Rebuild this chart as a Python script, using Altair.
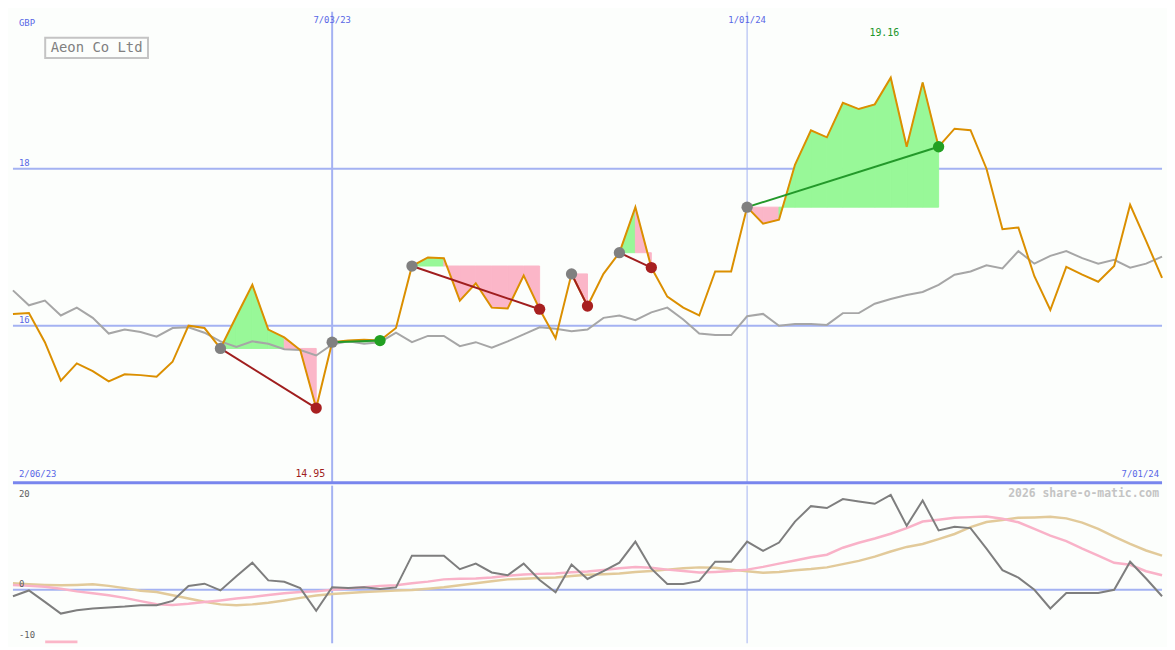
import altair as alt
import pandas as pd

# ---------------- data (weekly points, index 0..72) ----------------
price = [16.15, 16.16, 15.79, 15.30, 15.52, 15.42, 15.29, 15.38, 15.37, 15.35,
         15.54, 16.00, 15.97, 15.71, 16.12, 16.52, 15.95, 15.85, 15.69, 14.95,
         15.79, 15.81, 15.82, 15.81, 15.97, 16.76, 16.87, 16.86, 16.32, 16.54,
         16.23, 16.22, 16.64, 16.21, 15.84, 16.66, 16.25, 16.66, 16.93, 17.51,
         16.74, 16.37, 16.23, 16.13, 16.69, 16.69, 17.51, 17.30, 17.35, 18.05,
         18.49, 18.40, 18.84, 18.76, 18.82, 19.16, 18.28, 19.10, 18.28, 18.51,
         18.49, 18.00, 17.23, 17.25, 16.63, 16.20, 16.75, 16.65, 16.56, 16.76,
         17.54, 17.08, 16.61]

bench = [16.45, 16.26, 16.32, 16.13, 16.23, 16.10, 15.90, 15.95, 15.92, 15.86,
         15.97, 15.98, 15.91, 15.80, 15.73, 15.80, 15.77, 15.70, 15.69, 15.62,
         15.76, 15.80, 15.77, 15.79, 15.91, 15.79, 15.87, 15.87, 15.74, 15.79,
         15.72, 15.80, 15.89, 15.98, 15.96, 15.93, 15.95, 16.10, 16.13, 16.07,
         16.17, 16.23, 16.08, 15.90, 15.88, 15.88, 16.12, 16.15, 16.00, 16.02,
         16.02, 16.01, 16.16, 16.16, 16.28, 16.34, 16.39, 16.43, 16.52, 16.65,
         16.69, 16.77, 16.73, 16.95, 16.79, 16.89, 16.95, 16.86, 16.79, 16.84,
         16.74, 16.79, 16.88]

osc = [-1.4, -0.15, -2.6, -5.1, -4.4, -4.0, -3.8, -3.6, -3.3, -3.3,
       -2.4, 0.8, 1.3, -0.15, 2.9, 5.8, 2.0, 1.7, 0.35, -4.5,
       0.55, 0.35, 0.55, 0.15, 0.5, 7.3, 7.3, 7.3, 4.4, 5.6,
       3.7, 3.1, 5.6, 2.1, -0.55, 5.4, 2.3, 4.0, 5.8, 10.3,
       4.5, 1.25, 1.25, 1.9, 6.0, 6.0, 10.3, 8.3, 10.1, 14.6,
       17.9, 17.5, 19.4, 18.9, 18.4, 20.3, 13.7, 19.1, 12.7, 13.5,
       13.2, 8.8, 4.2, 2.6, 0.0, -4.0, -0.7, -0.7, -0.7, 0.0,
       6.0, 2.4, -1.4]

sig_pink = [1.04, 0.83, 0.63, 0.21, -0.35, -0.76, -1.18, -1.74, -2.43, -3.10,
            -3.26, -2.99, -2.64, -2.29, -1.88, -1.53, -1.11, -0.76, -0.49, -0.35,
            0.00, 0.28, 0.55, 0.83, 0.95, 1.39, 1.74, 2.22, 2.36, 2.43,
            2.64, 2.99, 3.26, 3.40, 3.47, 3.75, 3.89, 4.24, 4.58, 4.86,
            4.72, 4.31, 4.03, 3.68, 3.82, 4.03, 4.31, 4.90, 5.60, 6.25,
            6.94, 7.50, 9.00, 10.07, 10.97, 12.00, 13.20, 14.60, 15.00, 15.40,
            15.55, 15.70, 15.20, 14.45, 13.05, 11.60, 10.40, 8.80, 7.30, 5.76,
            5.35, 3.96, 3.10]

sig_tan = [1.39, 1.18, 1.04, 0.97, 1.04, 1.18, 0.83, 0.35, -0.21, -0.49,
           -1.18, -1.88, -2.57, -3.13, -3.33, -3.13, -2.78, -2.29, -1.74, -1.25,
           -0.90, -0.70, -0.49, -0.35, -0.18, -0.07, 0.21, 0.55, 0.97, 1.39,
           1.81, 2.22, 2.36, 2.50, 2.64, 2.92, 3.19, 3.33, 3.47, 3.82,
           4.03, 4.31, 4.58, 4.79, 4.72, 4.31, 3.96, 3.65, 3.82, 4.17,
           4.44, 4.79, 5.49, 6.18, 7.08, 8.20, 9.17, 9.80, 10.83, 11.94,
           13.40, 14.51, 14.93, 15.42, 15.49, 15.63, 15.28, 14.38, 13.05, 11.39,
           9.80, 8.40, 7.30]

idx = list(range(len(price)))

trade_entry = [13, 20, 25, 35, 38, 46]
trade_exit = [19, 23, 33, 36, 40, 58]

top_tick_labels = ["7/03/23", "1/01/24"]
top_tick_idx = [20, 46]
bottom_tick_labels = ["2/06/23", "7/01/24"]
price_grid = [16, 18]
osc_grid_labels = ["20", "0", "-10"]

# ---------------- styling ----------------
W, H1, H2 = 1159, 475, 159
BG = "#fcfefc"
GRID = "#a4b2f2"
SEP = "#7886ee"
LBL = "#5866e6"
FONT = "DejaVu Sans Mono"
UP_FILL, DOWN_FILL = "#98f898", "#fbb6c8"
WIN_LINE, LOSS_LINE = "#23992a", "#a01e1e"
WIN_DOT, LOSS_DOT = "#22a022", "#a82020"

xs = alt.Scale(domain=[0, 72], nice=False, zero=False)
ys1 = alt.Scale(domain=[14, 20], nice=False, zero=False)
ys2 = alt.Scale(domain=[-11.46, 22.29], nice=False, zero=False)

def X(f="i"):
    return alt.X(f"{f}:Q", scale=xs, axis=None)

def Y1(f):
    return alt.Y(f"{f}:Q", scale=ys1, axis=None)

def Y2(f):
    return alt.Y(f"{f}:Q", scale=ys2, axis=None)

main_df = pd.DataFrame({"i": idx, "price": price, "bench": bench})
osc_df = pd.DataFrame({"i": idx, "osc": osc, "pink": sig_pink, "tan": sig_tan})

# trade fills: per segment, between price and entry level
rows = []
for t, (a, b) in enumerate(zip(trade_entry, trade_exit)):
    e = price[a]
    for k in range(a, b):
        col = UP_FILL if price[k + 1] >= e else DOWN_FILL
        for j in (k, k + 1):
            rows.append({"seg": f"{t}-{k}", "i": j, "p": price[j], "e": e, "c": col})
fill_df = pd.DataFrame(rows)

wins = [price[b] >= price[a] for a, b in zip(trade_entry, trade_exit)]
trades_df = pd.DataFrame({
    "i": trade_entry,
    "i2": trade_exit,
    "p": [price[a] for a in trade_entry],
    "p2": [price[b] for b in trade_exit],
    "lc": [WIN_LINE if w else LOSS_LINE for w in wins],
    "dc": [WIN_DOT if w else LOSS_DOT for w in wins],
})

# ---------------- top panel ----------------
grid_h = alt.Chart(pd.DataFrame({"v": price_grid})).mark_rule(color=GRID, strokeWidth=2).encode(y=Y1("v"))
grid_v = alt.Chart(pd.DataFrame({"i": top_tick_idx, "w": [2, 1]})).mark_rule(color=GRID).encode(
    x=X(), strokeWidth=alt.StrokeWidth("w:Q", scale=None, legend=None))
sep = alt.Chart(pd.DataFrame({"v": [14]})).mark_rule(color=SEP, strokeWidth=3).encode(y=Y1("v"))

fills = alt.Chart(fill_df).mark_area(opacity=1, interpolate="linear", strokeWidth=1).encode(
    x=X(), y=Y1("p"), y2="e:Q", detail="seg:N",
    fill=alt.Fill("c:N", scale=None),
    stroke=alt.Stroke("c:N", scale=None),
)

bench_line = alt.Chart(main_df).mark_line(color="#a6a6a6", strokeWidth=2).encode(x=X(), y=Y1("bench"))
price_line = alt.Chart(main_df).mark_line(color="#db8f00", strokeWidth=2).encode(x=X(), y=Y1("price"))

trade_lines = alt.Chart(trades_df).mark_rule(strokeWidth=2).encode(
    x=X(), x2="i2:Q", y=Y1("p"), y2="p2:Q",
    color=alt.Color("lc:N", scale=None),
)
entry_pts = alt.Chart(trades_df).mark_circle(size=130, opacity=1, color="#808080").encode(x=X(), y=Y1("p"))
exit_pts = alt.Chart(trades_df).mark_circle(size=130, opacity=1).encode(
    x=X("i2"), y=Y1("p2"),
    color=alt.Color("dc:N", scale=None),
)

left_txt = alt.Chart(pd.DataFrame({
    "t": ["GBP", "18", "16", bottom_tick_labels[0]],
    "i": [0, 0, 0, 0],
    "v": [19.852, 18.075, 16.07, 14.11],
})).mark_text(align="left", baseline="middle", dx=6, font=FONT, fontSize=9, color=LBL).encode(
    x=X(), y=Y1("v"), text="t:N")

top_dates = alt.Chart(pd.DataFrame({
    "t": top_tick_labels, "i": top_tick_idx, "v": [19.90, 19.90]})).mark_text(
    align="center", baseline="middle", font=FONT, fontSize=9, color=LBL).encode(x=X(), y=Y1("v"), text="t:N")

right_date = alt.Chart(pd.DataFrame({"t": [bottom_tick_labels[1]], "i": [72], "v": [14.11]})).mark_text(
    align="right", baseline="middle", dx=-3, font=FONT, fontSize=9, color=LBL).encode(x=X(), y=Y1("v"), text="t:N")

hi_lo = alt.Chart(pd.DataFrame({
    "t": [f"{max(price):.2f}", f"{min(price):.2f}"],
    "i": [54.6, 18.63], "v": [19.73, 14.11], "c": ["#22962a", "#a01e1e"]})).mark_text(
    align="center", baseline="middle", font=FONT, fontSize=10).encode(
    x=X(), y=Y1("v"), text="t:N", color=alt.Color("c:N", scale=None))

name_box = alt.Chart(pd.DataFrame({"i": [2.02], "i2": [8.46], "v": [19.667], "v2": [19.409]})).mark_rect(
    fill=BG, stroke="#c4c4c4", strokeWidth=2).encode(x=X(), x2="i2:Q", y=Y1("v"), y2="v2:Q")
name_txt = alt.Chart(pd.DataFrame({"t": ["Aeon Co Ltd"], "i": [5.24], "v": [19.54]})).mark_text(
    align="center", baseline="middle", font=FONT, fontSize=14, color="#808080").encode(x=X(), y=Y1("v"), text="t:N")

top = alt.layer(
    grid_h, grid_v, fills, bench_line, price_line, trade_lines, entry_pts, exit_pts,
    sep, left_txt, top_dates, right_date, hi_lo, name_box, name_txt,
).properties(width=W, height=H1)

# ---------------- bottom panel ----------------
zero_line = alt.Chart(pd.DataFrame({"v": [0]})).mark_rule(color=GRID, strokeWidth=2).encode(y=Y2("v"))
grid_v2 = alt.Chart(pd.DataFrame({"i": top_tick_idx, "w": [2, 1]})).mark_rule(color=GRID).encode(
    x=X(), strokeWidth=alt.StrokeWidth("w:Q", scale=None, legend=None))
tan_line = alt.Chart(osc_df).mark_line(color="#e2ca9a", strokeWidth=2.5).encode(x=X(), y=Y2("tan"))
pink_line = alt.Chart(osc_df).mark_line(color="#f9b2c8", strokeWidth=2.5).encode(x=X(), y=Y2("pink"))
osc_line = alt.Chart(osc_df).mark_line(color="#7e7e7e", strokeWidth=2).encode(x=X(), y=Y2("osc"))

osc_lbl = alt.Chart(pd.DataFrame({"t": osc_grid_labels, "i": [0, 0, 0], "v": [20.6, 1.25, -9.8]})).mark_text(
    align="left", baseline="middle", dx=6, font=FONT, fontSize=9, color="#606060").encode(
    x=X(), y=Y2("v"), text="t:N")
credit = alt.Chart(pd.DataFrame({"t": ["2026 share-o-matic.com"], "i": [72], "v": [20.6]})).mark_text(
    align="right", baseline="middle", dx=-3, font=FONT, fontSize=11.5, fontWeight="bold", color="#c4c4c4").encode(
    x=X(), y=Y2("v"), text="t:N")
swatch = alt.Chart(pd.DataFrame({"i": [2.02], "i2": [4.04], "v": [-10.85], "v2": [-11.46]})).mark_rect(
    color="#fbb6c8").encode(x=X(), x2="i2:Q", y=Y2("v"), y2="v2:Q")

bottom = alt.layer(
    zero_line, grid_v2, tan_line, pink_line, osc_line, osc_lbl, credit, swatch,
).properties(width=W, height=H2)

chart = alt.vconcat(top, bottom, spacing=0).properties(
    padding=0, background=BG
).configure_view(stroke=None).configure_concat(spacing=0)

chart.save("out.html", embed_options={"renderer": "svg", "actions": False})
